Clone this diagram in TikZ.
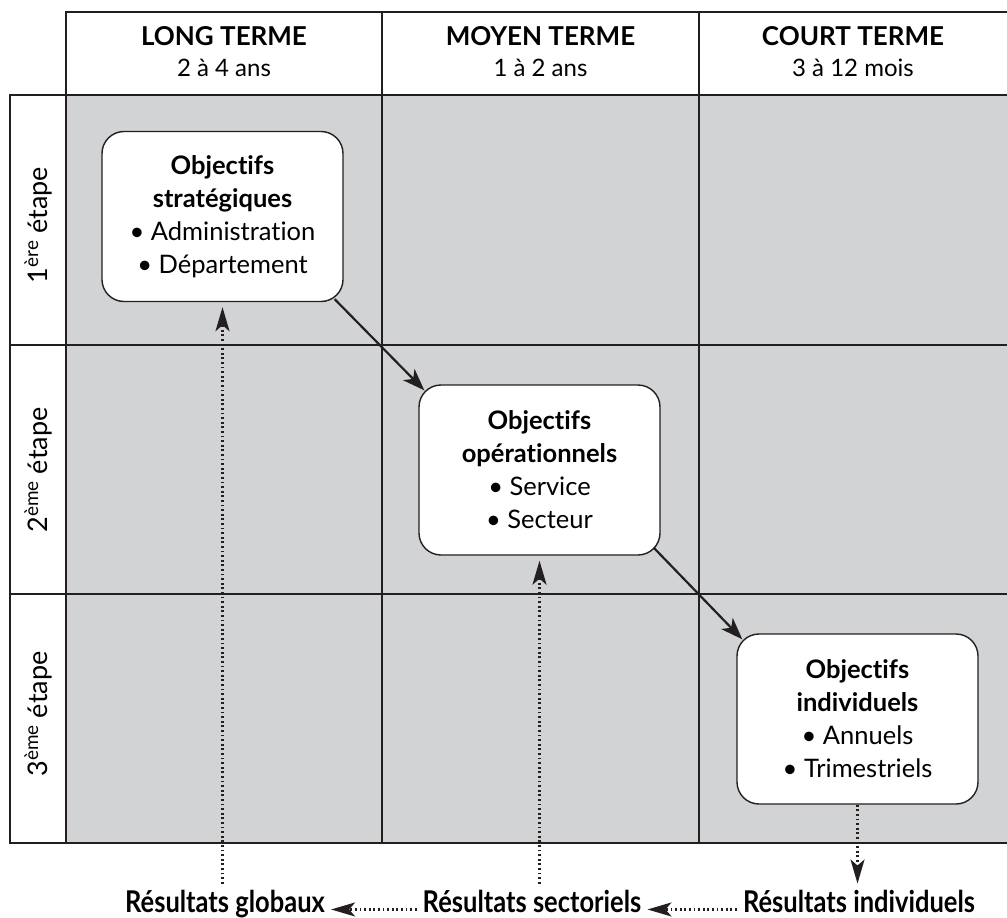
\documentclass[tikz,border=0pt]{standalone}
\usepackage{fontspec}
\setmainfont{Lato}[Ligatures=NoCommon]
\usepackage{graphicx}
\usetikzlibrary{arrows.meta}
\definecolor{cellgray}{RGB}{209,211,212}
\definecolor{ink}{RGB}{35,31,32}
\tikzset{
  gridline/.style={draw=ink,line width=2.4pt},
  thinline/.style={draw=ink,line width=1.4pt},
  objbox/.style={draw=ink,line width=1.4pt,fill=white,rounded corners=22pt,
    minimum width=241pt,minimum height=170pt,align=center,
    font=\fontsize{25.5}{33}\selectfont},
  headtext/.style={align=center,font=\fontsize{24}{31}\selectfont},
  rowtext/.style={rotate=90,font=\fontsize{27}{30}\selectfont},
  restext/.style={anchor=base,inner sep=6pt,font=\bfseries\fontsize{30}{32}\selectfont},
  flowarrow/.style={draw=ink,line width=2.2pt,-{Stealth[length=22pt,width=16pt,inset=6pt]}},
  dotarrow/.style={draw=ink,line width=2.4pt,dash pattern=on 1.8pt off 2.8pt,
    -{Stealth[length=24pt,width=14pt,inset=6pt]}}
}
\begin{document}
\begin{tikzpicture}[x=1pt,y=-1pt]
  \useasboundingbox (0,0) rectangle (1007,918);
  \fill[cellgray] (66,95) rectangle (1007,843);
  \draw[thinline] (66,95) -- (66,12) -- (1007,12);
  \draw[thinline] (382,12) -- (382,95);
  \draw[thinline] (699,12) -- (699,95);
  \draw[thinline] (66,95) -- (10,95) -- (10,843) -- (66,843);
  \draw[thinline] (10,345) -- (66,345);
  \draw[thinline] (10,594) -- (66,594);
  \draw[gridline] (66,95) -- (1007,95);
  \draw[gridline] (66,345) -- (1007,345);
  \draw[gridline] (66,594) -- (1007,594);
  \draw[gridline] (66,843) -- (1007,843);
  \draw[gridline] (66,95) -- (66,843);
  \draw[gridline] (382,95) -- (382,843);
  \draw[gridline] (699,95) -- (699,843);
  \node[headtext] (longterme) at (224,52) {{\fontsize{26}{31}\selectfont\bfseries LONG TERME}\\2 à 4 ans};
  \node[headtext] (moyenterme) at (540.5,52) {{\fontsize{26}{31}\selectfont\bfseries MOYEN TERME}\\1 à 2 ans};
  \node[headtext] (courtterme) at (853,52) {{\fontsize{26}{31}\selectfont\bfseries COURT TERME}\\3 à 12 mois};
  \node[rowtext] (etape1) at (38,225) {1\textsuperscript{ère} étape};
  \node[rowtext] (etape2) at (38,470) {2\textsuperscript{ème} étape};
  \node[rowtext] (etape3) at (38,714) {3\textsuperscript{ème} étape};
  \node[objbox] (strategiques) at (222.5,216.5)
    {\textbf{Objectifs}\\\textbf{stratégiques}\\\textbullet{} Administration\\\textbullet{} Département};
  \node[objbox] (operationnels) at (539.5,470)
    {\textbf{Objectifs}\\\textbf{opérationnels}\\\textbullet{} Service\\\textbullet{} Secteur};
  \node[objbox] (individuels) at (857.5,719)
    {\textbf{Objectifs}\\\textbf{individuels}\\\textbullet{} Annuels\\\textbullet{} Trimestriels};
  \node[restext] (globaux) at (225,912) {\scalebox{0.85}[1]{Résultats globaux}};
  \node[restext] (sectoriels) at (532,912) {\scalebox{0.85}[1]{Résultats sectoriels}};
  \node[restext] (resindividuels) at (859,912) {\scalebox{0.85}[1]{Résultats individuels}};
  \draw[flowarrow] ([xshift=-9pt,yshift=3pt]strategiques.south east)
    -- ([xshift=6pt,yshift=-6pt]operationnels.north west);
  \draw[flowarrow] ([xshift=-7pt,yshift=8pt]operationnels.south east)
    -- ([xshift=6pt,yshift=-6pt]individuels.north west);
  \draw[dotarrow,shorten >=5pt] (strategiques.south |- globaux.north) -- (strategiques.south);
  \draw[dotarrow,shorten >=5pt] (operationnels.south |- sectoriels.north) -- (operationnels.south);
  \draw[dotarrow] (individuels.south) -- (individuels.south |- resindividuels.north);
  \draw[dotarrow] (sectoriels.mid west) -- (globaux.mid east);
  \draw[dotarrow] (resindividuels.mid west) -- (sectoriels.mid east);
\end{tikzpicture}
\end{document}
